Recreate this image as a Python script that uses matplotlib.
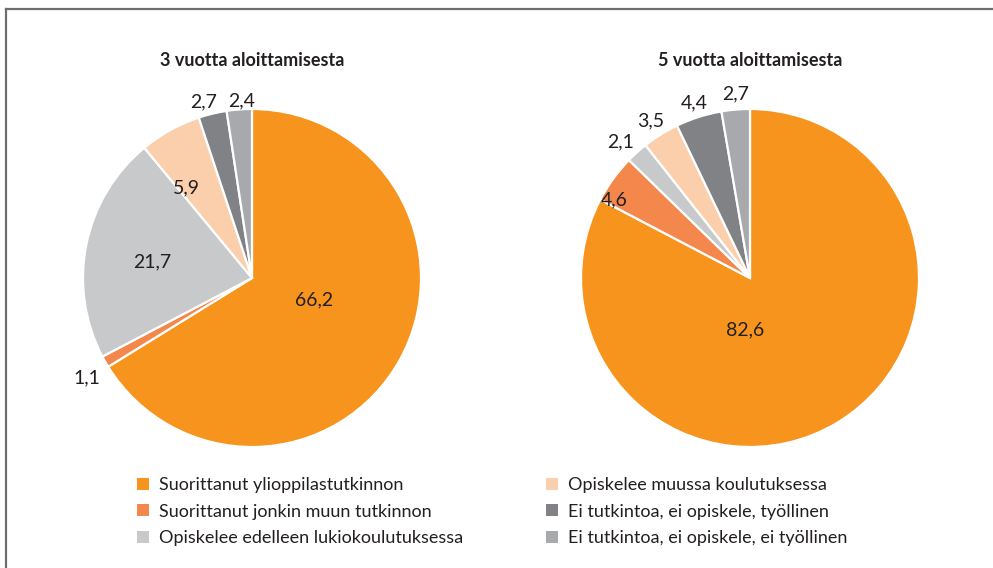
import matplotlib
matplotlib.use("Agg")
import matplotlib.pyplot as plt
import numpy as np
from matplotlib.patches import Patch

# --- data ---
categories = [
    "Suorittanut ylioppilastutkinnon",
    "Suorittanut jonkin muun tutkinnon",
    "Opiskelee edelleen lukiokoulutuksessa",
    "Opiskelee muussa koulutuksessa",
    "Ei tutkintoa, ei opiskele, työllinen",
    "Ei tutkintoa, ei opiskele, ei työllinen",
]
titles = ["3 vuotta aloittamisesta", "5 vuotta aloittamisesta"]
values_3v = [66.2, 1.1, 21.7, 5.9, 2.7, 2.4]
values_5v = [82.6, 4.6, 2.1, 3.5, 4.4, 2.7]

colors = ["#F7941D", "#F4874B", "#C8C9CB", "#FBCFAC", "#808285", "#A7A9AC"]

# label placement per wedge: (radius fraction, angle offset from wedge middle, degrees)
label_pos_3v = [(0.39, 10), (1.14, 1.5), (0.60, 2), (0.66, 7), (1.08, 2), (1.05, -1)]
label_pos_5v = [(0.31, -37), (0.93, 6), (1.11, 1.5), (1.10, 0.5), (1.09, 0), (1.09, -0.5)]

FONT = "Lato"
TXT = "#231f20"

fig = plt.figure(figsize=(9.93, 5.68), dpi=100)
W, H = 993, 568

# frame lines (left and top)
fig.add_artist(plt.Line2D([5.5 / W, 5.5 / W], [0, 1 - 8.5 / H], color="#6d6e71", lw=1.6,
                          transform=fig.transFigure))
fig.add_artist(plt.Line2D([5.5 / W, 1], [1 - 8.5 / H, 1 - 8.5 / H], color="#6d6e71", lw=1.6,
                          transform=fig.transFigure))


def draw_pie(cx, cy, r, vals, title, label_pos):
    ax = fig.add_axes([(cx - r) / W, 1 - (cy + r) / H, 2 * r / W, 2 * r / H])
    wedges, _ = ax.pie(vals, colors=colors, startangle=90, counterclock=False,
                       wedgeprops=dict(edgecolor="white", linewidth=1.6))
    ax.set_xlim(-1, 1)
    ax.set_ylim(-1, 1)
    for w, v, (rf, dang) in zip(wedges, vals, label_pos):
        mid = np.deg2rad((w.theta1 + w.theta2) / 2 + dang)
        ax.text(rf * np.cos(mid), rf * np.sin(mid), f"{v:.1f}".replace(".", ","),
                ha="center", va="center", fontsize=14, color=TXT, family=FONT)
    fig.text(cx / W, 1 - 60 / H, title, ha="center", va="center", fontsize=13,
             fontweight="bold", color=TXT, family=FONT)
    return ax


draw_pie(252, 278, 169, values_3v, titles[0], label_pos_3v)
draw_pie(750, 278, 169, values_5v, titles[1], label_pos_5v)

handles = [Patch(facecolor=c, edgecolor="none") for c in colors]
fig.legend(handles, categories, ncol=2, loc="upper left",
           bbox_to_anchor=(121 / W, 1 - 461 / H), frameon=False,
           prop=dict(family=FONT, size=13), handlelength=0.65, handleheight=0.65,
           handletextpad=0.55, labelspacing=0.58, columnspacing=4.6,
           labelcolor=TXT)

fig.savefig("out.png", dpi=100)
